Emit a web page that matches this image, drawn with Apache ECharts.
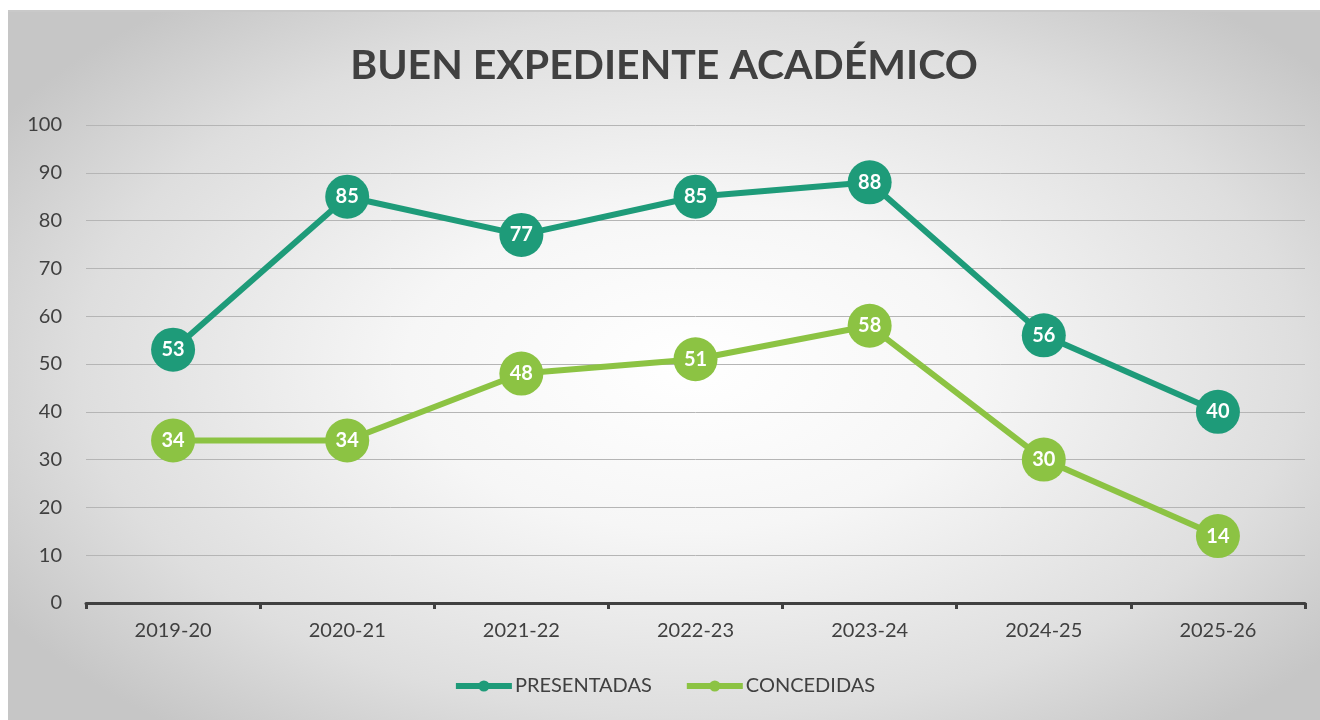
<!DOCTYPE html>
<html>
<head>
<meta charset="utf-8">
<script src="https://cdn.jsdelivr.net/npm/echarts@6/dist/echarts.min.js"></script>
<style>
  html, body { margin: 0; padding: 0; background: #fff; }
  #main {
    position: absolute; left: 8px; top: 10px; width: 1312px; height: 710px;
    border-top: 2px solid #c9c9c9;
    background: radial-gradient(ellipse 62% 66% at 52% 50%, #ffffff 0%, #f6f6f6 35%, #dedede 75%, #c6c6c6 100%);
    box-sizing: border-box;
  }
</style>
</head>
<body>
<div id="main"></div>
<script>
// datos
var categorias = ['2019-20', '2020-21', '2021-22', '2022-23', '2023-24', '2024-25', '2025-26'];
var presentadas = [53, 85, 77, 85, 88, 56, 40];
var concedidas = [34, 34, 48, 51, 58, 30, 14];

var myChart = echarts.init(document.getElementById('main'));

var labelOpt = {
  show: true,
  position: 'inside',
  color: '#fff',
  fontSize: 20,
  fontWeight: 'bold',
  fontFamily: 'Lato'
};

var option = {
  textStyle: { fontFamily: 'Lato' },
  title: {
    text: 'BUEN EXPEDIENTE ACADÉMICO',
    left: 'center',
    top: 28,
    textStyle: { fontSize: 41, fontWeight: 'bold', color: '#404040', fontFamily: 'Lato' }
  },
  legend: {
    bottom: 19,
    left: 'center',
    itemWidth: 56,
    itemHeight: 14,
    itemGap: 32,
    lineStyle: { width: 6 },
    textStyle: { fontSize: 20, color: '#404040', fontFamily: 'Lato', padding: [0, 0, 0, -2] },
    data: ['PRESENTADAS', 'CONCEDIDAS']
  },
  grid: { left: 78, right: 15, top: 113, bottom: 117 },
  xAxis: {
    type: 'category',
    data: categorias,
    boundaryGap: true,
    axisLine: { lineStyle: { color: '#404040', width: 3 } },
    axisTick: { show: true, length: 6, lineStyle: { color: '#404040', width: 3 } },
    axisLabel: { fontSize: 20, color: '#404040', margin: 18 }
  },
  yAxis: {
    type: 'value',
    min: 0,
    max: 100,
    interval: 10,
    axisLine: { show: false },
    axisTick: { show: false },
    axisLabel: { fontSize: 20, color: '#404040', margin: 24 },
    splitLine: { lineStyle: { color: '#b5b5b5', width: 1 } }
  },
  series: [
    {
      name: 'PRESENTADAS',
      type: 'line',
      data: presentadas,
      symbol: 'circle',
      symbolSize: 44,
      lineStyle: { color: '#1e9b79', width: 6 },
      itemStyle: { color: '#1e9b79' },
      label: labelOpt
    },
    {
      name: 'CONCEDIDAS',
      type: 'line',
      data: concedidas,
      symbol: 'circle',
      symbolSize: 44,
      lineStyle: { color: '#8cc343', width: 6 },
      itemStyle: { color: '#8cc343' },
      label: labelOpt
    }
  ]
};
myChart.setOption(option);
</script>
</body>
</html>
